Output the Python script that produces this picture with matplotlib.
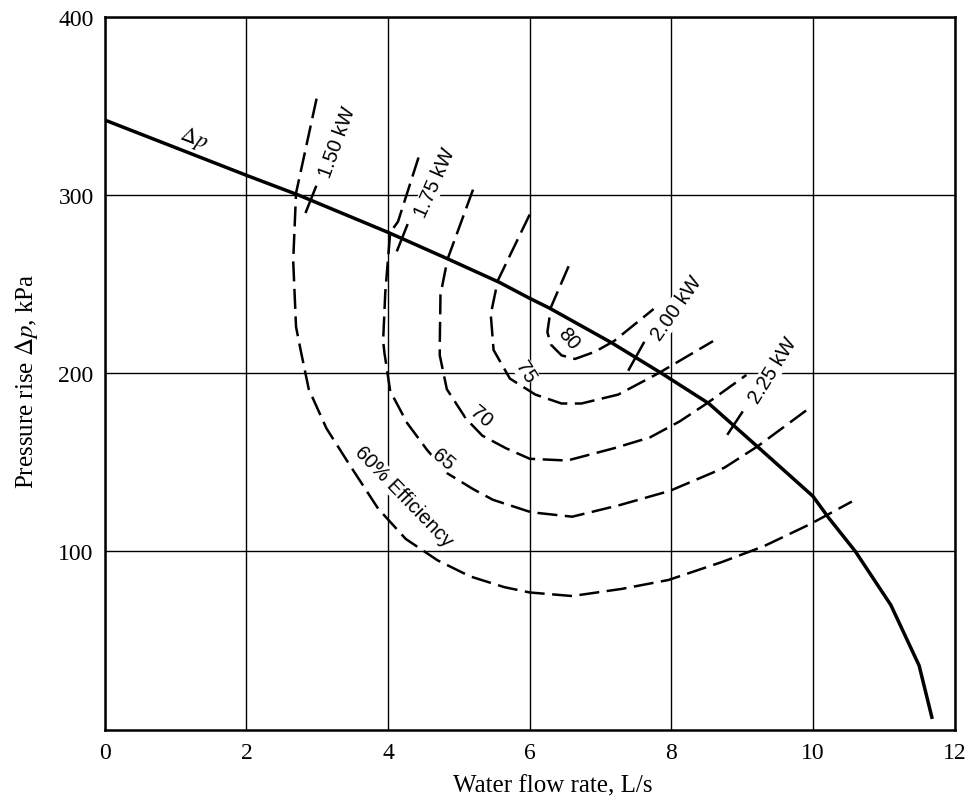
import matplotlib
matplotlib.use("Agg")
import matplotlib.pyplot as plt

# pump curve, water flow rate L/s vs pressure rise kPa
dp_q = [0, 2, 2.73, 4, 4.85, 5.57, 6, 6.28, 7.16, 7.86, 8.53, 9.24, 10, 10.22, 10.6, 11.1, 11.5, 11.68]
dp_p = [342, 311, 300, 279, 264, 251, 242, 236.5, 217, 200, 183, 158, 131, 119, 100, 70, 36, 7]

# efficiency contours (dashed)
eff60_q = [2.99, 2.7, 2.66, 2.7, 2.77, 2.88, 3.13, 3.45, 3.86, 4.25, 4.7, 5.16, 5.64, 6.0, 6.6, 7.3, 7.96, 8.71, 9.31, 9.97, 10.55]
eff60_p = [354, 301, 263, 226, 212, 191, 169, 149, 124, 107, 95, 86, 80, 77, 75, 79, 84, 94, 103, 115.5, 128]

eff65_q = [4.43, 4.14, 4.03, 3.96, 3.93, 3.95, 4.03, 4.27, 4.55, 4.83, 5.2, 5.48, 6.02, 6.6, 7.27, 7.98, 8.75, 9.22, 9.97]
eff65_p = [321, 285, 279, 245, 218, 211, 190, 172, 157, 144, 135, 129, 122, 119.5, 126, 134, 147, 159, 181]

eff70_q = [5.2, 4.84, 4.74, 4.73, 4.73, 4.83, 5.1, 5.33, 5.66, 6.0, 6.53, 7.2, 7.7, 8.12, 8.5, 9.06]
eff70_p = [303, 264, 244, 216, 210, 191, 174.5, 165, 158, 152, 151, 158, 164, 173, 183, 199]

eff75_q = [6.0, 5.55, 5.45, 5.49, 5.72, 6.08, 6.45, 6.73, 7.25, 7.82, 8.59]
eff75_p = [289, 252, 233, 213, 197, 188, 183, 183, 188, 200, 218]

eff80_q = [6.55, 6.3, 6.25, 6.3, 6.45, 6.64, 6.92, 7.19, 7.75]
eff80_p = [260, 237, 223, 216, 210, 208, 212, 218, 236]

# power marks across the pump curve: (q1, q2), (p1, p2)
kw_labels = ["1.50 kW", "1.75 kW", "2.00 kW", "2.25 kW"]
kw_q = [(2.84, 2.98), (4.13, 4.27), (7.4, 7.61), (8.8, 9.0)]
kw_p = [(290.5, 304.5), (269, 283), (202, 217), (166, 178)]
kw_text_q = [3.29, 4.66, 8.08, 9.43]
kw_text_p = [330, 307, 237, 202]
kw_rot = [70, 66, 55, 58]
kw_box = [False, True, True, True]

eff_labels = ["60% Efficiency", "65", "70", "75", "80"]
eff_text_q = [4.22, 4.78, 5.31, 5.94, 6.55]
eff_text_p = [131, 152, 176, 201, 220]
eff_rot = [-46, -40, -40, -58, -50]
eff_box = [True, True, True, True, False]

x_ticks = [0, 2, 4, 6, 8, 10, 12]
y_ticks = [100, 200, 300, 400]

plt.rcParams['font.family'] = ['Liberation Serif', 'DejaVu Serif']
plt.rcParams['mathtext.fontset'] = 'stix'

fig = plt.figure(figsize=(9.8, 8.03), dpi=100)
ax = fig.add_axes([0.107, 0.09, 0.867, 0.888])

dash = (0, (8, 3))
for q, p in [(eff60_q, eff60_p), (eff65_q, eff65_p), (eff70_q, eff70_p),
             (eff75_q, eff75_p), (eff80_q, eff80_p)]:
    ax.plot(q, p, color='black', lw=1.8, linestyle=dash, zorder=3)

ax.plot(dp_q, dp_p, color='black', lw=2.5, zorder=4)

for q, p in zip(kw_q, kw_p):
    ax.plot(q, p, color='black', lw=1.8, zorder=4)

sans = ['Liberation Sans', 'DejaVu Sans']
box = dict(facecolor='white', edgecolor='none', pad=0.5)


def label(t, q, p, r, use_box):
    ax.text(q, p, t, rotation=r, ha='center', va='center', fontsize=14.5,
            family=sans, bbox=box if use_box else None, zorder=6,
            rotation_mode='anchor')


for t, q, p, r, b in zip(kw_labels, kw_text_q, kw_text_p, kw_rot, kw_box):
    label(t, q, p, r, b)
for t, q, p, r, b in zip(eff_labels, eff_text_q, eff_text_p, eff_rot, eff_box):
    label(t, q, p, r, b)
ax.text(1.25, 332, r'$\Delta p$', rotation=-21, ha='center', va='center',
        fontsize=16, rotation_mode='anchor', zorder=6)

ax.set_xlim(0, 12)
ax.set_ylim(0, 400)
ax.set_xticks(x_ticks)
ax.set_yticks(y_ticks)
ax.tick_params(length=0, labelsize=17)
ax.tick_params(axis='x', pad=9)
ax.tick_params(axis='y', pad=8)
ax.grid(True, color='black', lw=1.0, zorder=1)
for s in ax.spines.values():
    s.set_linewidth(1.8)

ax.set_xlabel('Water flow rate, L/s', fontsize=18)
ax.set_ylabel(r'Pressure rise $\Delta p$, kPa', fontsize=18)
ax.xaxis.set_label_coords(0.527, -0.063)
ax.yaxis.set_label_coords(-0.076, 0.49)

fig.savefig('out.png', dpi=100)
